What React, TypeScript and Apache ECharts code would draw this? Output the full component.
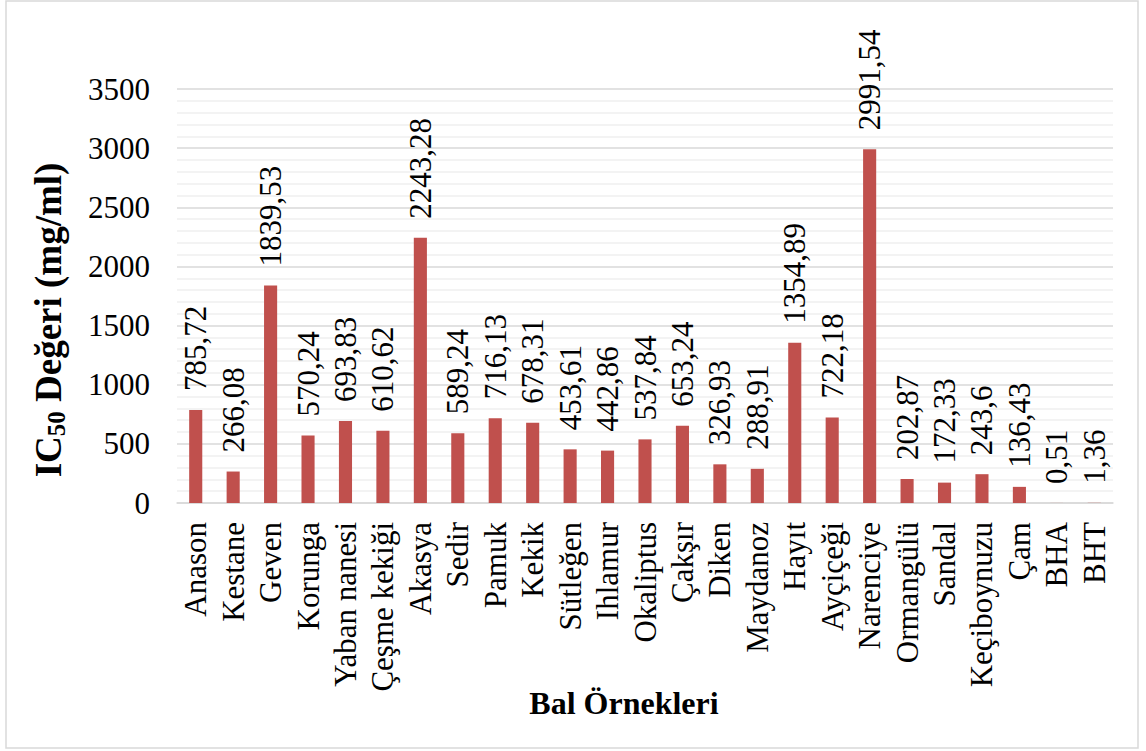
import React, { useEffect, useRef } from "react";
import * as echarts from "echarts";

const categories = [
  "Anason", "Kestane", "Geven", "Korunga", "Yaban nanesi", "Çeşme kekiği", "Akasya",
  "Sedir", "Pamuk", "Kekik", "Sütleğen", "Ihlamur", "Okaliptus", "Çakşır", "Diken",
  "Maydanoz", "Hayıt", "Ayçiçeği", "Narenciye", "Ormangülü", "Sandal", "Keçiboynuzu",
  "Çam", "BHA", "BHT",
];

const ic50Values = [
  785.72, 266.08, 1839.53, 570.24, 693.83, 610.62, 2243.28,
  589.24, 716.13, 678.31, 453.61, 442.86, 537.84, 653.24, 326.93,
  288.91, 1354.89, 722.18, 2991.54, 202.87, 172.33, 243.6,
  136.43, 0.51, 1.36,
];

const FONT = "'Liberation Serif', 'Times New Roman', serif";

// value labels use a decimal comma
const formatValue = (v: number) => String(v).replace(".", ",");

export default function App() {
  const ref = useRef<HTMLDivElement>(null);

  useEffect(() => {
    if (!ref.current) return;
    const chart = echarts.init(ref.current, undefined, { renderer: "svg" });
    chart.setOption({
      animation: false,
      backgroundColor: "#ffffff",
      textStyle: { fontFamily: FONT },
      grid: { left: 177, right: 33, top: 89, bottom: 248 },
      xAxis: {
        type: "category",
        data: categories,
        axisLine: { show: true, lineStyle: { color: "#d9d9d9", width: 1.5 } },
        axisTick: { show: false },
        axisLabel: {
          rotate: 90,
          interval: 0,
          margin: 19,
          fontSize: 31,
          color: "#000",
          fontFamily: FONT,
        },
      },
      yAxis: {
        type: "value",
        min: 0,
        max: 3500,
        interval: 500,
        axisLine: { show: false },
        axisTick: { show: false },
        axisLabel: {
          fontSize: 31,
          color: "#000",
          margin: 27,
          fontFamily: FONT,
          formatter: (v: number) => String(v),
        },
        splitLine: { show: true, lineStyle: { color: "#d9d9d9", width: 1.5 } },
        minorTick: { show: false, splitNumber: 5 },
        minorSplitLine: { show: true, lineStyle: { color: "#efefef", width: 1.5 } },
      },
      series: [
        {
          type: "bar",
          data: ic50Values,
          barWidth: "35%",
          itemStyle: { color: "#C0504D" },
        },
        {
          // rotated value labels placed above each bar
          type: "custom",
          data: ic50Values.map((v, i) => [i, v]),
          silent: true,
          renderItem: (params: any, api: any) => {
            const value = api.value(1);
            const pt = api.coord([api.value(0), value]);
            return {
              type: "text",
              x: pt[0],
              y: pt[1] - 19,
              rotation: Math.PI / 2,
              style: {
                text: formatValue(value),
                fontFamily: FONT,
                fontSize: 31,
                fill: "#000",
                align: "left",
                verticalAlign: "middle",
              },
            };
          },
        },
      ],
      graphic: [
        {
          type: "rect",
          shape: { x: 6, y: 1, width: 1132, height: 747 },
          style: { fill: "none", stroke: "#d9d9d9", lineWidth: 1.5 },
          silent: true,
        },
        {
          type: "text",
          x: 48,
          y: 320,
          rotation: Math.PI / 2,
          style: {
            text: "{b|IC}{s|50}{b| Değeri (mg/ml)}",
            align: "center",
            verticalAlign: "middle",
            rich: {
              b: { fontSize: 37, fontWeight: "bold", fontFamily: FONT, fill: "#000", lineHeight: 42 },
              s: { fontSize: 25, fontWeight: "bold", fontFamily: FONT, fill: "#000", verticalAlign: "bottom", lineHeight: 42 },
            },
          },
        },
        {
          type: "text",
          x: 624,
          y: 703,
          style: {
            text: "Bal Örnekleri",
            align: "center",
            verticalAlign: "middle",
            fontSize: 32,
            fontWeight: "bold",
            fontFamily: FONT,
            fill: "#000",
          },
        },
      ],
    });
    return () => chart.dispose();
  }, []);

  return (
    <div
      ref={ref}
      style={{ position: "absolute", left: 0, top: 0, width: 1146, height: 751 }}
    />
  );
}
